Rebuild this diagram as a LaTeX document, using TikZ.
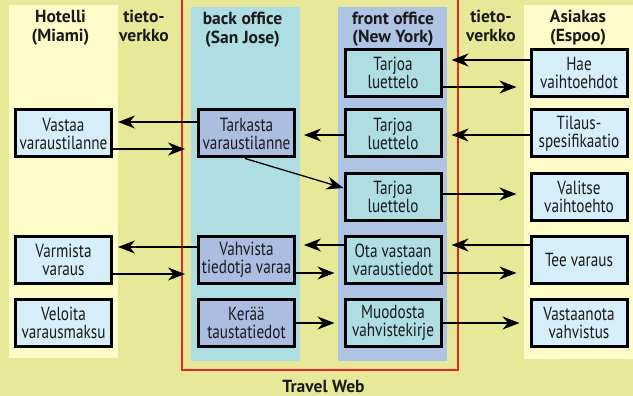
\documentclass[tikz,border=0pt]{standalone}
\usepackage{fontspec}
\setmainfont{PT Sans}
\newfontfamily\boxfont{PT Sans}[FakeStretch=0.8]
\usetikzlibrary{arrows.meta}
\definecolor{bg}{RGB}{231,233,152}
\definecolor{hotelcol}{RGB}{255,251,200}
\definecolor{backcol}{RGB}{174,221,228}
\definecolor{frontcol}{RGB}{175,195,228}
\definecolor{boxlight}{RGB}{214,238,250}
\definecolor{backbox}{RGB}{171,190,226}
\definecolor{frontbox}{RGB}{174,221,228}
\definecolor{webred}{RGB}{232,38,40}
\definecolor{txt}{RGB}{26,26,26}
\begin{document}
\begin{tikzpicture}[x=1pt,y=-1pt,
  bx/.style={draw=black, line width=3pt, minimum width=96pt, minimum height=47pt, inner sep=0pt, align=center, text=txt, font=\boxfont\fontsize{19}{18}\selectfont},
  hb/.style={bx, fill=boxlight},
  bb/.style={bx, fill=backbox},
  fb/.style={bx, fill=frontbox},
  arr/.style={line width=1.3pt, draw=black, -{Stealth[length=17pt,width=13pt,inset=5.5pt]}},
  hdr/.style={font=\bfseries\fontsize{17.5}{18.5}\selectfont, align=center, text=txt, inner sep=0pt, anchor=base},
  redline/.style={draw=webred, line width=2.8pt}
]
\useasboundingbox (0,0) rectangle (633,396);
\fill[bg] (0,0) rectangle (633,396);
% columns
\fill[hotelcol] (9,5) rectangle (118,358);
\fill[backcol] (191,7) rectangle (300,361);
\fill[frontcol] (338,7) rectangle (447,361);
\fill[hotelcol] (524,5) rectangle (633,359);
% frame
\draw[redline] (182,-2) -- (182,370) -- (458,370) -- (458,-2);
% headers (base = last line)
\node[hdr] (h1) at (60.5,41.5) {Hotelli\\(Miami)};
\node[hdr] (h2) at (144,41.5) {tieto-\\verkko};
\node[hdr] (h3) at (242.5,43.5) {back office\\(San Jose)};
\node[hdr] (h4) at (393,43) {front office\\(New York)};
\node[hdr] (h5) at (491,41.3) {tieto-\\verkko};
\node[hdr] (h6) at (578,41.3) {Asiakas\\(Espoo)};
\node[hdr] (tw) at (323.5,392.5) {Travel Web};
% boxes
\node[hb] (ho2) at (63.5,133.5) {Vastaa\\varaustilanne};
\node[hb] (ho4) at (63.5,260) {Varmista\\varaus};
\node[hb] (ho5) at (63.5,323) {Veloita\\varausmaksu};
\node[bb] (bo2) at (246.5,133.5) {Tarkasta\\varaustilanne};
\node[bb] (bo4) at (246.5,260) {Vahvista\\tiedotja varaa};
\node[bb] (bo5) at (246.5,323) {Kerää\\taustatiedot};
\node[fb] (fo1) at (393,73) {Tarjoa\\luettelo};
\node[fb] (fo2) at (393,133.5) {Tarjoa\\luettelo};
\node[fb] (fo3) at (393,197) {Tarjoa\\luettelo};
\node[fb] (fo4) at (393,260) {Ota vastaan\\varaustiedot};
\node[fb] (fo5) at (393,323) {Muodosta\\vahvistekirje};
\node[hb] (cu1) at (579,73) {Hae\\vaihtoehdot};
\node[hb] (cu2) at (579,133.5) {Tilaus-\\spesifikaatio};
\node[hb] (cu3) at (579,197) {Valitse\\vaihtoehto};
\node[hb] (cu4) at (579,260) {Tee varaus};
\node[hb] (cu5) at (579,323) {Vastaanota\\vahvistus};
% arrows row 1
\draw[arr, shorten >=9pt] ([yshift=13pt]cu1.west) -- ([yshift=13pt]fo1.east);
\draw[arr, shorten >=13pt] ([yshift=-14pt]fo1.east) -- ([yshift=-14pt]cu1.west);
% row 2
\draw[arr, shorten >=9pt] ([yshift=-1.5pt]cu2.west) -- ([yshift=-1.5pt]fo2.east);
\draw[arr, shorten >=8pt] ([yshift=-1.5pt]fo2.west) -- ([yshift=-1.5pt]bo2.east);
\draw[arr, shorten >=5pt] ([yshift=11.5pt]bo2.west) -- ([yshift=11.5pt]ho2.east);
\draw[arr, shorten >=12pt] ([yshift=-15.5pt]ho2.east) -- ([yshift=-15.5pt]bo2.west);
\draw[arr] ([xshift=-1.5pt]bo2.south) -- ([yshift=9pt]fo3.west);
% row 3
\draw[arr, shorten >=13pt] ([yshift=3pt]fo3.east) -- ([yshift=3pt]cu3.west);
% row 4
\draw[arr, shorten >=5pt] ([yshift=13pt]bo4.west) -- ([yshift=13pt]ho4.east);
\draw[arr, shorten >=12pt] ([yshift=-14pt]ho4.east) -- ([yshift=-14pt]bo4.west);
\draw[arr, shorten >=8pt] ([yshift=15pt]fo4.west) -- ([yshift=15pt]bo4.east);
\draw[arr, shorten >=9pt] ([yshift=-13pt]bo4.east) -- ([yshift=-13pt]fo4.west);
\draw[arr, shorten >=9pt] ([yshift=15pt]cu4.west) -- ([yshift=15pt]fo4.east);
\draw[arr, shorten >=13pt] ([yshift=-13pt]fo4.east) -- ([yshift=-13pt]cu4.west);
% row 5
\draw[arr, shorten >=9pt] (bo5.east) -- (fo5.west);
\draw[arr, shorten >=10pt] (fo5.east) -- (cu5.west);
\end{tikzpicture}
\end{document}
